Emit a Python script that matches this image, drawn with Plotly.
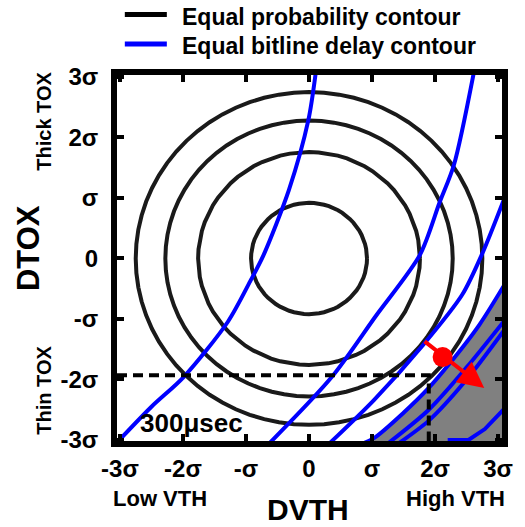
import numpy as np
import plotly.graph_objects as go

# ---------------- data ----------------
tick_vals = [-3, -2, -1, 0, 1, 2, 3]
tick_text = ["-3σ", "-2σ", "-σ", "0", "σ", "2σ", "3σ"]

prob_radii = [0.92, 1.76, 2.28, 2.75]   # equal probability contours (in σ)

delay_A_x = [-3.1, -2.5, -1.99, -1.29, -0.92, -0.72, -0.32, -0.01, 0.11]
delay_A_y = [-3.1, -2.45, -1.96, -1.05, -0.35, 0.06, 1.13, 2.29, 3.1]
delay_B_x = [-0.69, 0.36, 1.06, 1.76, 2.07, 2.30, 2.62]
delay_B_y = [-3.12, -1.96, -0.95, 0.06, 0.92, 1.55, 3.1]
delay_C_x = [0.26, 1.03, 1.81, 2.43, 2.74, 3.12]
delay_C_y = [-3.12, -2.34, -1.43, -0.60, 0.06, 1.05]
delay_D_x = [0.80, 1.03, 1.50, 1.90, 2.22, 2.70, 3.12]
delay_D_y = [-3.08, -2.97, -2.55, -2.14, -1.75, -1.10, -0.40]
delay_E_x = [1.20, 1.90, 2.50, 3.12]
delay_E_y = [-3.10, -2.50, -1.80, -1.00]
delay_F_x = [1.36, 1.90, 2.50, 3.12]
delay_F_y = [-3.10, -2.68, -2.00, -1.15]
delay_G_x = [2.20, 2.53, 2.79, 3.12]
delay_G_y = [-3.00, -3.00, -2.82, -2.46]

delay_lines = [
    (delay_A_x, delay_A_y, "spline"), (delay_B_x, delay_B_y, "spline"),
    (delay_C_x, delay_C_y, "spline"), (delay_D_x, delay_D_y, "spline"),
    (delay_E_x, delay_E_y, "spline"), (delay_F_x, delay_F_y, "spline"),
    (delay_G_x, delay_G_y, "linear"),
]

# fail region (shaded) bounded by contour D and the plot corner
fail_x = delay_D_x + [3.2, 3.2, 0.8]
fail_y = delay_D_y + [-0.40, -3.2, -3.2]

# 300 µsec operating point (dashed guides)
op_x = 1.90
op_y = -1.93

# red arrow: tail, dot, head
arrow_tail = (1.81, -1.35)
arrow_dot = (2.12, -1.63)
arrow_head = (2.78, -2.14)

label_300 = (-1.87, -2.72)

XR = [-3.047, 3.062]
YR = [-3.017, 3.033]

# ---------------- figure ----------------
W, H = 525, 527
L, R, T, B = 117, 14, 75, 86
PW, PH = W - L - R, H - T - B


def px(x):
    return (x - L) / PW


def py(y):
    return (H - B - y) / PH


FONT = "Liberation Sans, Arial, sans-serif"
fig = go.Figure()

fig.add_trace(go.Scatter(x=fail_x, y=fail_y, fill="toself", fillcolor="#808080",
                         mode="none", showlegend=False, hoverinfo="skip"))

theta = np.linspace(0, 2 * np.pi, 73)
for i, r in enumerate(prob_radii):
    fig.add_trace(go.Scatter(x=r * np.cos(theta), y=r * np.sin(theta), mode="lines",
                             line=dict(color="#1a1a1a", width=4),
                             name="Equal probability contour", showlegend=False))

for lx, ly, shp in delay_lines:
    fig.add_trace(go.Scatter(x=lx, y=ly, mode="lines",
                             line=dict(color="#0000ff", width=4, shape=shp, smoothing=0.8),
                             name="Equal bitline delay contour", showlegend=False))

# dashed guides
fig.add_trace(go.Scatter(x=[XR[0], op_x, op_x], y=[op_y, op_y, YR[0]], mode="lines",
                         line=dict(color="black", width=4, dash="10px,6px"),
                         showlegend=False, hoverinfo="skip"))

# red dot
fig.add_trace(go.Scatter(x=[arrow_dot[0]], y=[arrow_dot[1]], mode="markers",
                         marker=dict(color="#ff0000", size=20), showlegend=False))

annotations = [
    dict(x=arrow_head[0], y=arrow_head[1], ax=arrow_tail[0], ay=arrow_tail[1],
         xref="x", yref="y", axref="x", ayref="y", text="", showarrow=True,
         arrowhead=2, arrowsize=1.3, arrowwidth=4, arrowcolor="#ff0000"),
    dict(x=label_300[0], y=label_300[1], xref="x", yref="y", text="300μsec",
         showarrow=False, font=dict(family=FONT, size=26, color="black", weight="bold")),
]


def txt(s, x, y, size, angle=0, anchor="center"):
    annotations.append(dict(text=s, x=px(x), y=py(y), xref="paper", yref="paper",
                            showarrow=False, textangle=angle, xanchor=anchor, yanchor="middle",
                            borderpad=0,
                            font=dict(family=FONT, size=size, color="black", weight="bold")))


txt("DTOX", 26, 248, 31, angle=-90)
txt("Thick TOX", 42, 121, 20, angle=-90)
txt("Thin TOX", 42, 390, 20, angle=-90)
txt("DVTH", 312, 510, 30)
txt("Low VTH", 161, 498, 22)
txt("High VTH", 463, 498, 22)
txt("Equal probability contour", 182, 17, 23, anchor="left")
txt("Equal bitline delay contour", 182, 46, 23, anchor="left")

shapes = [
    dict(type="line", xref="paper", yref="paper", x0=px(125), x1=px(168), y0=py(14.5), y1=py(14.5),
         line=dict(color="black", width=5)),
    dict(type="line", xref="paper", yref="paper", x0=px(125), x1=px(168), y0=py(44), y1=py(44),
         line=dict(color="#0000ff", width=5)),
]

axis_common = dict(tickvals=tick_vals, ticktext=tick_text, ticks="inside", ticklen=7,
                   tickwidth=4, tickcolor="black", showline=True, linewidth=6,
                   linecolor="black", mirror="allticks", showgrid=False, zeroline=False,
                   tickfont=dict(family=FONT, size=24, color="black", weight="bold"))

fig.update_layout(
    width=W, height=H, margin=dict(l=L, r=R, t=T, b=B),
    plot_bgcolor="white", paper_bgcolor="white",
    xaxis=dict(range=XR, ticklabelstandoff=1, **axis_common),
    yaxis=dict(range=YR, ticklabelstandoff=8, **axis_common),
    annotations=annotations, shapes=shapes, showlegend=False,
)

fig.write_html("out.html")
